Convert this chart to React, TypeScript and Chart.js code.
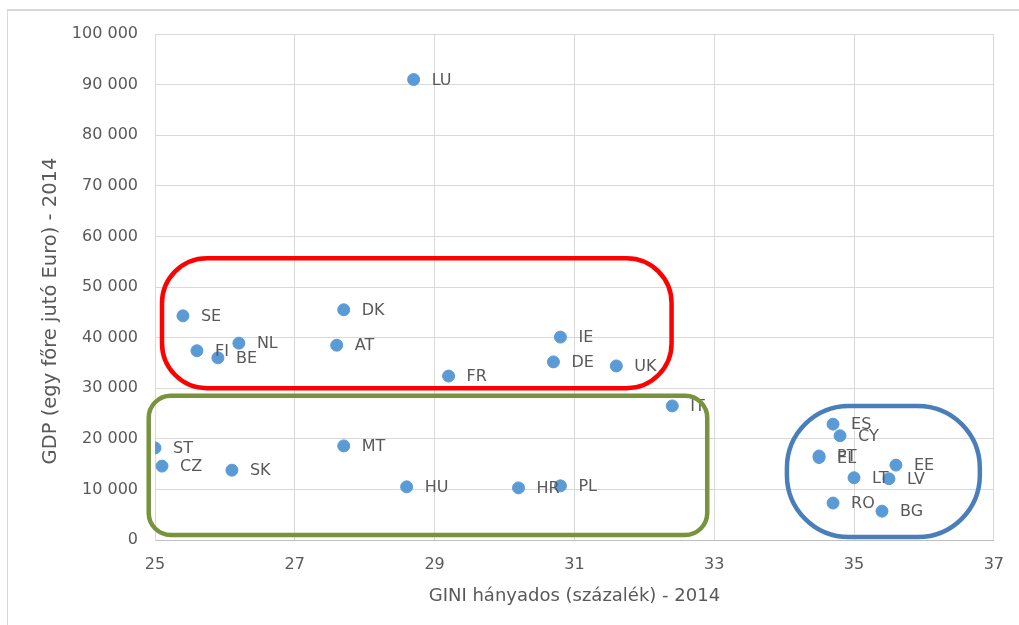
import React, { useEffect, useRef } from "react";
import { Chart, registerables } from "chart.js";

Chart.register(...registerables);

const countries = ["LU", "SE", "DK", "NL", "FI", "BE", "AT", "FR", "IE", "DE", "UK", "IT", "ST", "CZ", "SK", "MT", "HU", "HR", "PL", "ES", "CY", "PT", "EL", "EE", "LT", "LV", "RO", "BG"];
const gini = [28.7, 25.4, 27.7, 26.2, 25.6, 25.9, 27.6, 29.2, 30.8, 30.7, 31.6, 32.4, 25.0, 25.1, 26.1, 27.7, 28.6, 30.2, 30.8, 34.7, 34.8, 34.5, 34.5, 35.6, 35.0, 35.5, 34.7, 35.4];
const gdp = [91000, 44300, 45500, 38900, 37400, 36000, 38500, 32400, 40100, 35200, 34400, 26500, 18200, 14600, 13800, 18600, 10500, 10300, 10700, 22900, 20600, 16600, 16300, 14800, 12300, 12100, 7300, 5700];

// group outlines in data coordinates: [xMin, xMax, yMin, yMax]
const groupNames = ["north-west", "central", "south-east"];
const groupBounds = [
  [25.1, 32.39, 30000, 55700],
  [24.91, 32.9, 1000, 28500],
  [34.04, 36.8, 600, 26500],
];

const xTitle = "GINI hányados (százalék) - 2014";
const yTitle = "GDP (egy főre jutó Euro) - 2014";

const FONT = "'DejaVu Sans', sans-serif";
const TEXT = "#595959";

const groupStyle = [
  { color: "#FF0000", radius: 45 },
  { color: "#77933C", radius: 22 },
  { color: "#4A7EBB", radius: 62 },
];

function roundRect(ctx: CanvasRenderingContext2D, x: number, y: number, w: number, h: number, r: number) {
  const rr = Math.min(r, w / 2, h / 2);
  ctx.beginPath();
  ctx.moveTo(x + rr, y);
  ctx.lineTo(x + w - rr, y);
  ctx.arcTo(x + w, y, x + w, y + rr, rr);
  ctx.lineTo(x + w, y + h - rr);
  ctx.arcTo(x + w, y + h, x + w - rr, y + h, rr);
  ctx.lineTo(x + rr, y + h);
  ctx.arcTo(x, y + h, x, y + h - rr, rr);
  ctx.lineTo(x, y + rr);
  ctx.arcTo(x, y, x + rr, y, rr);
  ctx.closePath();
}

const labelPlugin = {
  id: "pointLabels",
  afterDatasetsDraw(chart: any) {
    const ctx = chart.ctx;
    const meta = chart.getDatasetMeta(0);
    ctx.save();
    ctx.font = `16px ${FONT}`;
    ctx.fillStyle = TEXT;
    ctx.textAlign = "left";
    ctx.textBaseline = "middle";
    meta.data.forEach((pt: any, i: number) => {
      ctx.fillText(countries[i], pt.x + 18, pt.y + 1);
    });
    ctx.restore();
  },
};

const yTitlePlugin = {
  id: "yTitle",
  afterDraw(chart: any) {
    const ctx = chart.ctx;
    const ys = chart.scales.y;
    ctx.save();
    ctx.translate(51, (ys.top + ys.bottom) / 2 + 24);
    ctx.rotate(-Math.PI / 2);
    ctx.font = `19.5px ${FONT}`;
    ctx.fillStyle = TEXT;
    ctx.textAlign = "center";
    ctx.textBaseline = "middle";
    ctx.fillText(yTitle, 0, 0);
    ctx.restore();
  },
};

const groupPlugin = {
  id: "groupOutlines",
  afterDraw(chart: any) {
    const ctx = chart.ctx;
    const xs = chart.scales.x;
    const ys = chart.scales.y;
    ctx.save();
    groupBounds.forEach((b, i) => {
      const x1 = xs.getPixelForValue(b[0]);
      const x2 = xs.getPixelForValue(b[1]);
      const y1 = ys.getPixelForValue(b[3]);
      const y2 = ys.getPixelForValue(b[2]);
      ctx.lineWidth = 4.5;
      ctx.strokeStyle = groupStyle[i].color;
      roundRect(ctx, x1, y1, x2 - x1, y2 - y1, groupStyle[i].radius);
      ctx.stroke();
    });
    ctx.restore();
  },
};

function fmt(v: number) {
  return String(v).replace(/\B(?=(\d{3})+(?!\d))/g, " ");
}

export default function App() {
  const ref = useRef<HTMLCanvasElement>(null);
  useEffect(() => {
    if (!ref.current) return;
    const chart = new Chart(ref.current, {
      type: "scatter",
      data: {
        datasets: [
          {
            label: "GDP",
            data: gini.map((g, i) => ({ x: g, y: gdp[i] })),
            backgroundColor: "#5B9BD5",
            borderColor: "#5B9BD5",
            pointRadius: 6,
            pointHoverRadius: 6,
          },
        ],
      },
      options: {
        responsive: false,
        animation: false,
        layout: { padding: { top: 34, right: 22, bottom: 0, left: 0 } },
        plugins: { legend: { display: false }, tooltip: { enabled: false } },
        scales: {
          x: {
            type: "linear",
            min: 25,
            max: 37,
            afterFit: (s: any) => {
              s.height = 85;
            },
            ticks: { stepSize: 2, color: TEXT, font: { family: FONT, size: 16 }, padding: 15 },
            grid: { color: "#D9D9D9", drawTicks: false },
            border: { color: "#BFBFBF" },
            title: { display: true, text: xTitle, color: TEXT, font: { family: FONT, size: 18 }, padding: { top: 0, bottom: 18 } },
          },
          y: {
            type: "linear",
            min: 0,
            max: 100000,
            afterFit: (s: any) => {
              s.width = 155;
            },
            ticks: { stepSize: 10000, color: TEXT, font: { family: FONT, size: 16 }, padding: 17, callback: (v: any) => fmt(Number(v)) },
            grid: { color: "#D9D9D9", drawTicks: false },
            border: { color: "#D9D9D9" },
            title: { display: false },
          },
        },
      },
      plugins: [labelPlugin, yTitlePlugin, groupPlugin],
    });
    return () => chart.destroy();
  }, []);

  return (
    <div style={{ position: "fixed", left: 0, top: 0, width: 1019, height: 625, overflow: "hidden", background: "#fff" }}>
      <div style={{ position: "absolute", left: 7, top: 9, width: 1100, height: 800, borderLeft: "1px solid #D9D9D9", borderTop: "2px solid #D9D9D9" }} />
      <canvas ref={ref} width={1019} height={625} style={{ position: "absolute", left: 0, top: 0, width: 1019, height: 625 }} />
    </div>
  );
}
